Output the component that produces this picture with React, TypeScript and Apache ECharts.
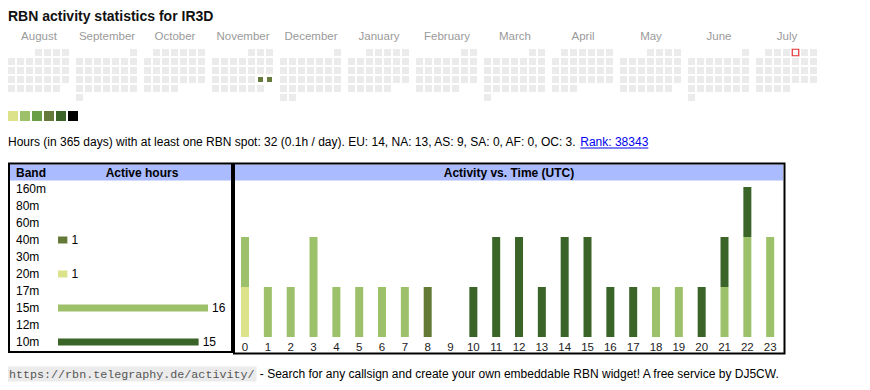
import React, { useEffect, useRef } from 'react';
import * as echarts from 'echarts';

const TITLE = 'RBN activity statistics for IR3D';
const MONTHS = ['2024-08', '2024-09', '2024-10', '2024-11', '2024-12', '2025-01', '2025-02', '2025-03', '2025-04', '2025-05', '2025-06', '2025-07'];
const MONTH_NAMES = ['August', 'September', 'October', 'November', 'December', 'January', 'February', 'March', 'April', 'May', 'June', 'July'];
const ACTIVE_DAYS: [string, number][] = [['2024-11-23', 16], ['2024-11-24', 16]];
const TODAY = '2025-07-04';
const LEVEL_COLORS = ['#dce28a', '#9dc16a', '#6a9f47', '#667a3b', '#3d6428', '#000000'];
const LEVEL_MIN = [1, 3, 6, 11, 17, 24];
const LEVEL_MAX = [2, 5, 10, 16, 23, 24];

const SUMMARY = 'Hours (in 365 days) with at least one RBN spot: 32 (0.1h / day). EU: 14, NA: 13, AS: 9, SA: 0, AF: 0, OC: 3. ';
const RANK_TEXT = 'Rank: 38343';

const BANDS = ['160m', '80m', '60m', '40m', '30m', '20m', '17m', '15m', '12m', '10m'];
const BAND_HOURS = [0, 0, 0, 1, 0, 1, 0, 16, 0, 15];
const BAND_COLORS = ['#3b6528', '#3b6528', '#3b6528', '#637a37', '#9dc06a', '#dce28a', '#9dc06a', '#9dc06a', '#3b6528', '#3b6528'];

const HOURS = ['0', '1', '2', '3', '4', '5', '6', '7', '8', '9', '10', '11', '12', '13', '14', '15', '16', '17', '18', '19', '20', '21', '22', '23'];
const STACK_BANDS = ['40m', '20m', '15m', '10m'];
const STACK_COLORS = ['#637a37', '#dce28a', '#9dc06a', '#3b6528'];
const HOURS_40M = [0, 0, 0, 0, 0, 0, 0, 0, 1, 0, 0, 0, 0, 0, 0, 0, 0, 0, 0, 0, 0, 0, 0, 0];
const HOURS_20M = [1, 0, 0, 0, 0, 0, 0, 0, 0, 0, 0, 0, 0, 0, 0, 0, 0, 0, 0, 0, 0, 0, 0, 0];
const HOURS_15M = [1, 1, 1, 2, 1, 1, 1, 1, 0, 0, 0, 0, 0, 0, 0, 0, 0, 0, 1, 1, 0, 1, 2, 2];
const HOURS_10M = [0, 0, 0, 0, 0, 0, 0, 0, 0, 0, 1, 2, 2, 1, 2, 2, 1, 1, 0, 0, 1, 1, 1, 0];
const HOURLY = [HOURS_40M, HOURS_20M, HOURS_15M, HOURS_10M];

const FOOTER_URL = 'https://rbn.telegraphy.de/activity/';
const FOOTER_TEXT = ' - Search for any callsign and create your own embeddable RBN widget! A free service by DJ5CW.';

const SANS = "'Liberation Sans', Arial, sans-serif";
const MONO = "'Liberation Mono', monospace";
const HEADER_BG = '#aabbff';

function measure(text: string, font: string): number {
  const ctx = document.createElement('canvas').getContext('2d');
  if (!ctx) return text.length * 6;
  ctx.font = font;
  return ctx.measureText(text).width;
}

export default function App() {
  const ref = useRef<HTMLDivElement>(null);

  useEffect(() => {
    if (!ref.current) return;
    const chart = echarts.init(ref.current, undefined, { renderer: 'svg' });

    const calendars = MONTHS.map((m, i) => ({
      orient: 'vertical',
      range: m,
      left: 7 + i * 68,
      top: 48,
      cellSize: [9, 9],
      dayLabel: { show: false, firstDay: 1 },
      monthLabel: { show: false },
      yearLabel: { show: false },
      splitLine: { show: false },
      itemStyle: { color: '#ebebeb', borderColor: '#ffffff', borderWidth: 2 },
    }));

    const heatSeries: any[] = [];
    MONTHS.forEach((m, i) => {
      const days = ACTIVE_DAYS.filter((d) => d[0].startsWith(m));
      if (days.length) {
        heatSeries.push({
          type: 'heatmap',
          coordinateSystem: 'calendar',
          calendarIndex: i,
          data: days,
          itemStyle: { borderColor: '#ffffff', borderWidth: 2 },
        });
      }
    });
    const todayMonth = MONTHS.findIndex((m) => TODAY.startsWith(m));

    const summaryFont = `12px ${SANS}`;
    const summaryW = measure(SUMMARY, summaryFont);
    const rankW = measure(RANK_TEXT, summaryFont);
    const summaryY = 142;

    const graphics: any[] = [
      {
        type: 'text', x: 8, y: 16,
        style: { text: TITLE, fontSize: 14, fontWeight: 'bold', fontFamily: SANS, fill: '#111', textVerticalAlign: 'middle', verticalAlign: 'middle' },
      },
      ...MONTH_NAMES.map((n, i) => ({
        type: 'text', x: 39 + i * 68, y: 36,
        style: { text: n, fontSize: 11.5, fontFamily: SANS, fill: '#9a9a9a', textAlign: 'center', align: 'center', textVerticalAlign: 'middle', verticalAlign: 'middle' },
      })),
      {
        type: 'text', x: 8, y: summaryY,
        style: { text: SUMMARY, font: summaryFont, fill: '#000', textVerticalAlign: 'middle', verticalAlign: 'middle' },
      },
      {
        type: 'text', x: 8 + summaryW, y: summaryY,
        style: { text: RANK_TEXT, font: summaryFont, fill: '#0000ee', textVerticalAlign: 'middle', verticalAlign: 'middle' },
      },
      {
        type: 'line', shape: { x1: 8 + summaryW, y1: summaryY + 6, x2: 8 + summaryW + rankW, y2: summaryY + 6 },
        style: { stroke: '#0000ee', lineWidth: 1 },
      },
      // left panel
      { type: 'rect', shape: { x: 10, y: 164.5, width: 221, height: 16 }, style: { fill: HEADER_BG } },
      { type: 'rect', shape: { x: 9, y: 163.5, width: 223, height: 188.5 }, style: { fill: 'none', stroke: '#000', lineWidth: 2 } },
      {
        type: 'text', x: 16, y: 173,
        style: { text: 'Band', fontSize: 12, fontWeight: 'bold', fontFamily: SANS, fill: '#000', textVerticalAlign: 'middle', verticalAlign: 'middle' },
      },
      {
        type: 'text', x: 142, y: 173,
        style: { text: 'Active hours', fontSize: 12, fontWeight: 'bold', fontFamily: SANS, fill: '#000', textAlign: 'center', align: 'center', textVerticalAlign: 'middle', verticalAlign: 'middle' },
      },
      // right panel
      { type: 'rect', shape: { x: 235, y: 164.5, width: 548, height: 16 }, style: { fill: HEADER_BG } },
      { type: 'rect', shape: { x: 234, y: 163.5, width: 550.5, height: 190 }, style: { fill: 'none', stroke: '#000', lineWidth: 2 } },
      {
        type: 'text', x: 509, y: 173,
        style: { text: 'Activity vs. Time (UTC)', fontSize: 12, fontWeight: 'bold', fontFamily: SANS, fill: '#000', textAlign: 'center', align: 'center', textVerticalAlign: 'middle', verticalAlign: 'middle' },
      },
      // footer
      {
        type: 'text', x: 8, y: 374,
        style: {
          text: `{code|${FOOTER_URL}}{t|${FOOTER_TEXT}}`,
          textVerticalAlign: 'middle', verticalAlign: 'middle',
          rich: {
            code: { fontFamily: MONO, fontSize: 11.7, fill: '#555', color: '#555', backgroundColor: '#ebebeb', padding: [2, 2, 1, 1] },
            t: { fontFamily: SANS, fontSize: 12, fill: '#000', color: '#000' },
          },
        },
      },
    ];

    const option: any = {
      animation: false,
      calendar: calendars,
      visualMap: {
        type: 'piecewise',
        seriesIndex: heatSeries.map((_, i) => i),
        orient: 'horizontal',
        left: 8,
        top: 111,
        padding: 0,
        itemWidth: 10,
        itemHeight: 10,
        itemGap: 2,
        itemSymbol: 'rect',
        showLabel: false,
        selectedMode: false,
        pieces: LEVEL_COLORS.map((c, i) => ({ min: LEVEL_MIN[i], max: LEVEL_MAX[i], color: c })),
      },
      grid: [
        { left: 58, top: 180.5, width: 150, height: 170, containLabel: false },
        { left: 233.6, top: 187, width: 548, height: 150, containLabel: false },
      ],
      xAxis: [
        { type: 'value', gridIndex: 0, min: 0, max: 16, show: false },
        {
          type: 'category', gridIndex: 1, data: HOURS,
          axisLine: { show: false }, axisTick: { show: false },
          axisLabel: { interval: 0, margin: 4, fontSize: 11.5, fontFamily: SANS, color: '#222' },
        },
      ],
      yAxis: [
        {
          type: 'category', gridIndex: 0, data: BANDS, inverse: true,
          axisLine: { show: false }, axisTick: { show: false }, splitLine: { show: false },
          axisLabel: { align: 'left', margin: 42, fontSize: 12, fontFamily: SANS, color: '#000' },
        },
        { type: 'value', gridIndex: 1, min: 0, max: 3, show: false },
      ],
      series: [
        ...heatSeries,
        {
          type: 'scatter',
          coordinateSystem: 'calendar',
          calendarIndex: todayMonth,
          symbol: 'rect',
          symbolSize: 6.5,
          data: [[TODAY, 1]],
          itemStyle: { color: '#ffffff', borderColor: '#e00000', borderWidth: 1.2 },
          silent: true,
        },
        {
          type: 'bar',
          xAxisIndex: 0,
          yAxisIndex: 0,
          barWidth: 7,
          data: BAND_HOURS.map((v, i) => ({ value: v > 0 ? v : null, itemStyle: { color: BAND_COLORS[i] } })),
          label: { show: true, position: 'right', distance: 4, fontSize: 12, fontFamily: SANS, color: '#000' },
        },
        ...STACK_BANDS.map((b, i) => ({
          type: 'bar',
          name: b,
          xAxisIndex: 1,
          yAxisIndex: 1,
          stack: 'hours',
          barWidth: 8,
          itemStyle: { color: STACK_COLORS[i] },
          data: HOURLY[i],
        })),
      ],
      graphic: graphics,
    };

    chart.setOption(option);
    return () => chart.dispose();
  }, []);

  return <div ref={ref} style={{ position: 'fixed', left: 0, top: 0, width: 870, height: 390, background: '#fff' }} />;
}
